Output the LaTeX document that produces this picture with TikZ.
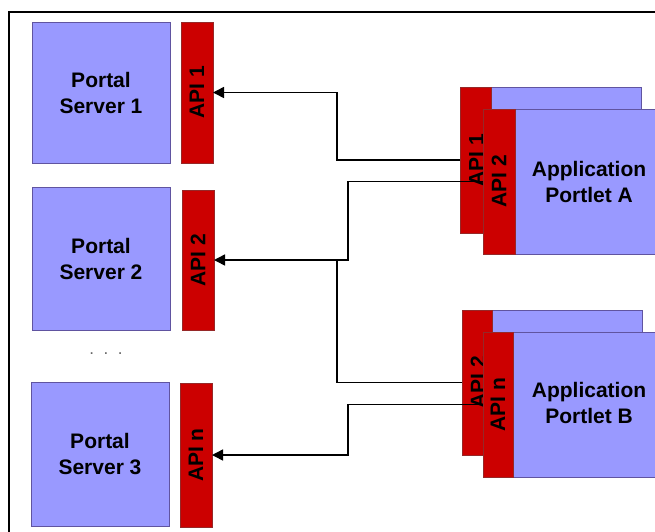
\documentclass[tikz,border=0pt]{standalone}
\usepackage{fontspec}
\setmainfont{Liberation Sans}
\usetikzlibrary{arrows.meta}
\definecolor{boxblue}{RGB}{153,153,255}
\definecolor{boxedge}{RGB}{96,84,160}
\definecolor{apired}{RGB}{204,0,0}
\definecolor{apiedge}{RGB}{150,40,40}
\begin{document}
\begin{tikzpicture}[x=1pt,y=-1pt,
  lbl/.style={font=\bfseries\fontsize{21}{26}\selectfont, align=center, inner sep=0},
  box/.style={draw=boxedge, fill=boxblue, line width=1pt, inner sep=0, outer sep=0,
    anchor=north west, lbl},
  apibar/.style={draw=apiedge, fill=apired, line width=1pt, inner sep=0, outer sep=0,
    anchor=north west, minimum width=32pt},
  apitext/.style={lbl, rotate=90},
  conn/.style={line width=1.5pt, black},
  arr/.style={conn, -{Triangle[length=11pt,width=11pt]}}]
\useasboundingbox (0,0) rectangle (655,531);
\clip (0,0) rectangle (655,531);

% outer frame
\draw[line width=2.5pt] (9,12) rectangle (700,600);

% portal servers and their API bars
\node[box, minimum width=138pt, minimum height=141pt] (srv1) at (32,22) {Portal\\Server 1};
\node[apibar, minimum height=141pt] (api1) at (181,22) {};
\node[apitext] (api1t) at (api1.center) {API 1};

\node[box, minimum width=138pt, minimum height=143pt] (srv2) at (32,187) {Portal\\Server 2};
\node[apibar, minimum height=140pt] (api2) at (182,190) {};
\node[apitext] (api2t) at (api2.center) {API 2};

\node[font=\fontsize{17}{17}\selectfont, text=black!60] (dots) at (106,354) {.\ \ .\ \ .};

\node[box, minimum width=138pt, minimum height=144pt] (srv3) at (31,382) {Portal\\Server 3};
\node[apibar, minimum height=144pt] (apin) at (180,383) {};
\node[apitext] (apint) at (apin.center) {API n};

% application portlet A
\node[box, minimum width=150pt, minimum height=146pt] (backA) at (491,87) {};
\node[apibar, minimum width=31pt, minimum height=146pt] (pA1) at (460,87) {};
\node[apitext] (pA1t) at ([xshift=1pt]pA1.center) {API 1};
\node[box, minimum width=160pt, minimum height=145pt] (frontA) at (515,109) {};
\node[apibar, minimum height=145pt] (pA2) at (483,109) {};
\node[apitext] (pA2t) at (pA2.center) {API 2};
\node[lbl] (appA) at (589,182) {Application\\Portlet A};

% application portlet B
\node[box, minimum width=150pt, minimum height=145pt] (backB) at (492,310) {};
\node[apibar, minimum width=30pt, minimum height=145pt] (pB2) at (462,310) {};
\node[apitext] (pB2t) at ([xshift=1pt]pB2.center) {API 2};
\node[box, minimum width=160pt, minimum height=145pt] (frontB) at (513,332) {};
\node[apibar, minimum width=30pt, minimum height=145pt] (pBn) at (483,332) {};
\node[apitext] (pBnt) at (pBn.center) {API n};
\node[lbl] (appB) at (589,403) {Application\\Portlet B};

% routing columns
\coordinate (colL) at (337,0);
\coordinate (colR) at (348,0);

% connectors
\draw[arr] (pA1.west) -| (colL |- api1.east) -- (api1.east);
\draw[arr] (pA2.west) -| (colR |- api2.east) -- (api2.east);
\draw[conn] (pB2.west) -| (colL |- api2.east);
\draw[arr] (pBn.west) -| (colR |- apin.east) -- (apin.east);
\end{tikzpicture}
\end{document}
